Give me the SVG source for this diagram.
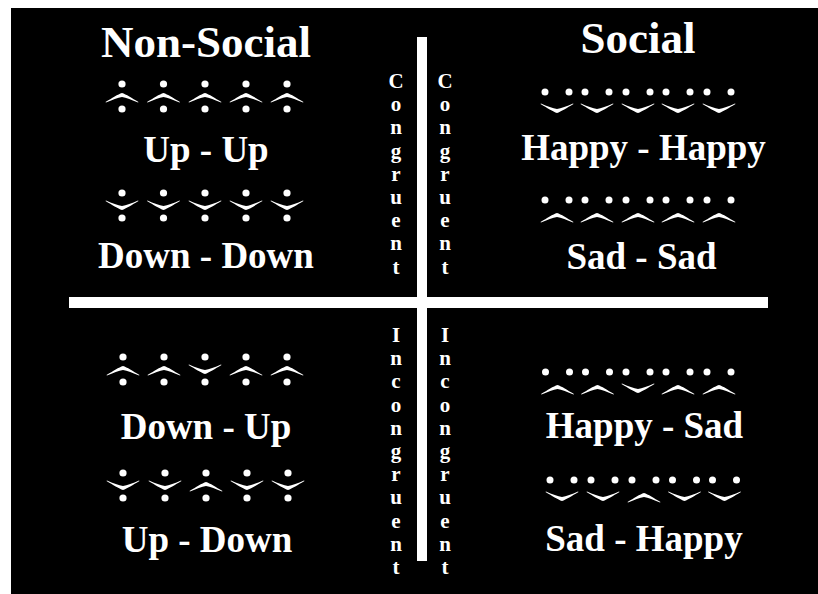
<svg xmlns="http://www.w3.org/2000/svg" xmlns:xlink="http://www.w3.org/1999/xlink" width="818" height="594" viewBox="0 0 818 594">
<style>
.t{font-family:"Liberation Serif","Times New Roman",serif;font-weight:bold;fill:#fff;text-anchor:middle}
.h{font-size:45px}
.l{font-size:37px}
.v{font-size:21px}
.w{fill:#fff}
</style>
<defs>
<path id="cu" class="w" d="M-16.5,5 C-10,1.2 -4,-2.8 0,-4 C4,-2.8 10,1.2 16.5,5 L16,5.6 C10,3 4,0.6 0,0 C-4,0.6 -10,3 -16,5.6 Z"/>
<g id="nsU"><circle class="w" cx="0" cy="-13" r="3.6"/><use xlink:href="#cu"/><circle class="w" cx="0" cy="12" r="3.6"/></g>
<g id="nsD"><circle class="w" cx="0" cy="-13" r="3.6"/><use xlink:href="#cu" transform="scale(1,-1)"/><circle class="w" cx="0" cy="12" r="3.6"/></g>
<g id="fH"><circle class="w" cx="-12" cy="-17" r="3.5"/><circle class="w" cx="12" cy="-17" r="3.5"/><use xlink:href="#cu" transform="scale(1,-1)"/></g>
<g id="fS"><circle class="w" cx="-12" cy="-17" r="3.5"/><circle class="w" cx="12" cy="-17" r="3.5"/><use xlink:href="#cu"/></g>
</defs>
<rect x="0" y="0" width="818" height="594" fill="#fff"/>
<rect x="11" y="8" width="807" height="586" fill="#000"/>
<g id="connectors">
<rect class="w" x="417" y="37" width="10" height="524"/>
<rect class="w" x="69" y="297" width="699" height="11"/>
</g>
<g id="headers">
<text class="t h" x="206" y="57">Non-Social</text>
<text class="t h" x="638" y="53">Social</text>
</g>
<g id="congruent-labels">
<text class="t v" y="88"><tspan x="396">C</tspan><tspan x="396" dy="23.2">o</tspan><tspan x="396" dy="23.2">n</tspan><tspan x="396" dy="23.2">g</tspan><tspan x="396" dy="23.2">r</tspan><tspan x="396" dy="23.2">u</tspan><tspan x="396" dy="23.2">e</tspan><tspan x="396" dy="23.2">n</tspan><tspan x="396" dy="23.2">t</tspan></text>
<text class="t v" y="88"><tspan x="445">C</tspan><tspan x="445" dy="23.2">o</tspan><tspan x="445" dy="23.2">n</tspan><tspan x="445" dy="23.2">g</tspan><tspan x="445" dy="23.2">r</tspan><tspan x="445" dy="23.2">u</tspan><tspan x="445" dy="23.2">e</tspan><tspan x="445" dy="23.2">n</tspan><tspan x="445" dy="23.2">t</tspan></text>
</g>
<g id="incongruent-labels">
<text class="t v" y="342"><tspan x="396">I</tspan><tspan x="396" dy="23.2">n</tspan><tspan x="396" dy="23.2">c</tspan><tspan x="396" dy="23.2">o</tspan><tspan x="396" dy="23.2">n</tspan><tspan x="396" dy="23.2">g</tspan><tspan x="396" dy="23.2">r</tspan><tspan x="396" dy="23.2">u</tspan><tspan x="396" dy="23.2">e</tspan><tspan x="396" dy="23.2">n</tspan><tspan x="396" dy="23.2">t</tspan></text>
<text class="t v" y="342"><tspan x="445">I</tspan><tspan x="445" dy="23.2">n</tspan><tspan x="445" dy="23.2">c</tspan><tspan x="445" dy="23.2">o</tspan><tspan x="445" dy="23.2">n</tspan><tspan x="445" dy="23.2">g</tspan><tspan x="445" dy="23.2">r</tspan><tspan x="445" dy="23.2">u</tspan><tspan x="445" dy="23.2">e</tspan><tspan x="445" dy="23.2">n</tspan><tspan x="445" dy="23.2">t</tspan></text>
</g>
<g id="up-up">
<use xlink:href="#nsU" x="122" y="97"/><use xlink:href="#nsU" x="163.5" y="97"/><use xlink:href="#nsU" x="205" y="97"/><use xlink:href="#nsU" x="246" y="97"/><use xlink:href="#nsU" x="287" y="97"/>
<text class="t l" x="206" y="162">Up - Up</text>
</g>
<g id="down-down">
<use xlink:href="#nsD" x="122" y="206"/><use xlink:href="#nsD" x="163.5" y="206"/><use xlink:href="#nsD" x="205" y="206"/><use xlink:href="#nsD" x="246" y="206"/><use xlink:href="#nsD" x="287" y="206"/>
<text class="t l" x="206" y="268">Down - Down</text>
</g>
<g id="down-up">
<use xlink:href="#nsU" x="123" y="370"/><use xlink:href="#nsU" x="164" y="370"/><use xlink:href="#nsD" x="205" y="370"/><use xlink:href="#nsU" x="246" y="370"/><use xlink:href="#nsU" x="287" y="370"/>
<text class="t l" x="206" y="439">Down - Up</text>
</g>
<g id="up-down">
<use xlink:href="#nsD" x="123" y="486"/><use xlink:href="#nsD" x="165" y="486"/><use xlink:href="#nsU" x="206" y="486"/><use xlink:href="#nsD" x="247" y="486"/><use xlink:href="#nsD" x="288" y="486"/>
<text class="t l" x="207" y="552">Up - Down</text>
</g>
<g id="happy-happy">
<use xlink:href="#fH" x="557" y="109"/><use xlink:href="#fH" x="597" y="109"/><use xlink:href="#fH" x="638" y="109"/><use xlink:href="#fH" x="678" y="109"/><use xlink:href="#fH" x="719" y="109"/>
<text class="t l" x="643.5" y="160">Happy - Happy</text>
</g>
<g id="sad-sad">
<use xlink:href="#fS" x="557" y="217"/><use xlink:href="#fS" x="597" y="217"/><use xlink:href="#fS" x="638" y="217"/><use xlink:href="#fS" x="678" y="217"/><use xlink:href="#fS" x="719" y="217"/>
<text class="t l" x="641.5" y="269">Sad - Sad</text>
</g>
<g id="happy-sad">
<use xlink:href="#fS" x="557.5" y="389"/><use xlink:href="#fS" x="597.5" y="389"/><use xlink:href="#fH" x="638" y="389"/><use xlink:href="#fS" x="678" y="389"/><use xlink:href="#fS" x="719" y="389"/>
<text class="t l" x="644.5" y="438">Happy - Sad</text>
</g>
<g id="sad-happy">
<use xlink:href="#fH" x="562" y="497"/><use xlink:href="#fH" x="603" y="497"/><use xlink:href="#fS" x="644" y="497"/><use xlink:href="#fH" x="684.5" y="497"/><use xlink:href="#fH" x="724.5" y="497"/>
<text class="t l" x="644" y="551">Sad - Happy</text>
</g>
</svg>
